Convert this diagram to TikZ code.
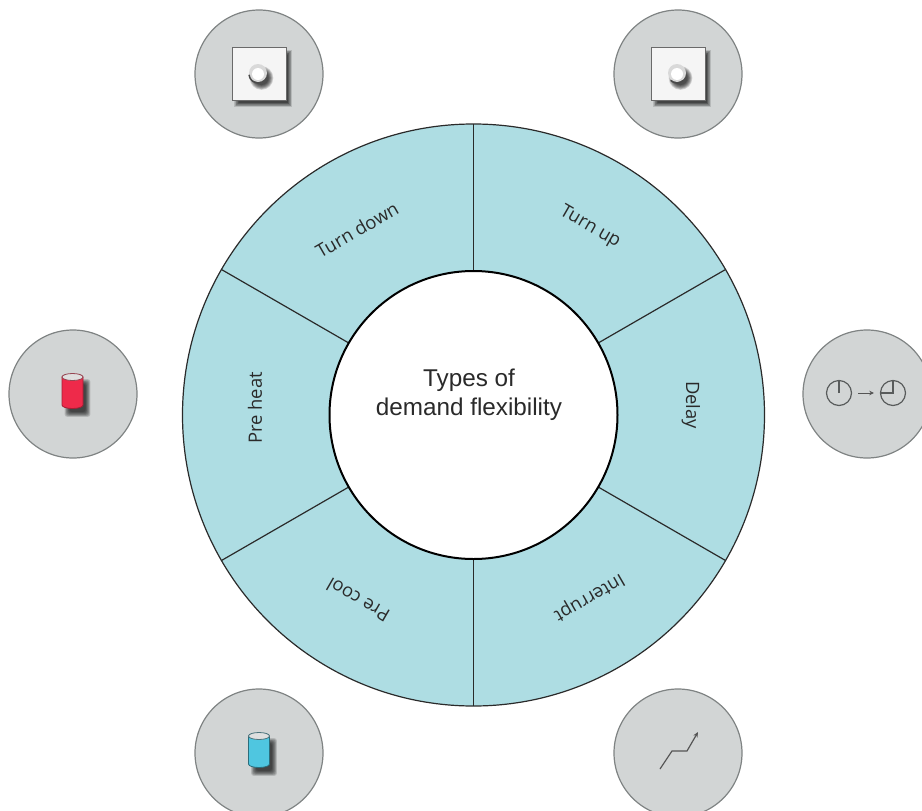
\documentclass[tikz,border=0pt]{standalone}
\usepackage{fontspec}
\usetikzlibrary{arrows.meta,calc}
\setmainfont{Open Sans}
\newfontfamily\centerfont{Liberation Sans}
\definecolor{ringfill}{HTML}{AEDDE3}
\definecolor{badge}{HTML}{D2D5D5}
\definecolor{badgeline}{HTML}{7F8383}
\definecolor{ink}{HTML}{2A2A2A}
\definecolor{canred}{HTML}{EE2A4A}
\definecolor{canblue}{HTML}{4FC6E0}
\tikzset{
  x=0.75pt,y=-0.75pt,
  badgedisc/.style={circle,draw=badgeline,line width=0.9pt,fill=badge,minimum size=96pt,inner sep=0pt},
  ringline/.style={draw=ink,line width=0.9pt},
  seglabel/.style={font=\fontsize{13.8}{16}\selectfont,text=ink,inner sep=0pt},
  centerlabel/.style={font=\centerfont\fontsize{18.2}{22}\selectfont,text=ink,align=center,inner sep=0pt},
  clockface/.style={circle,draw=badgeline!70!black,line width=0.9pt,minimum size=18.75pt,inner sep=0pt},
  clockhand/.style={draw=badgeline!70!black,line width=0.8pt},
}
\newcommand{\knob}[3]{%
  \begin{scope}[shift={(#1,#2)}]
    \foreach \g in {6,5,...,0}{\fill[black,opacity=0.15] (3.5,4) circle ({7+\g*0.8});}
    \fill[gray!30!white] (0,-1) circle (9);
    \fill[white] (0,0) circle (6);
    \draw[ink!85,line width=1.1pt] (#3:9) arc (#3:#3+90:9);
  \end{scope}}
\newcommand{\can}[4]{%
  \begin{scope}[shift={(#1,#2)}]
    \foreach \g in {7,6,...,0}{\fill[black,opacity=0.13,rounded corners=2pt] ({-3-\g*0.7},{-7-\g*0.7}) rectangle ({13+\g*0.7},{21+\g*0.7});}
    \path[fill=#3,draw=#4,line width=0.6pt] (-10.5,-14) -- (-10.5,14) arc[x radius=10.5,y radius=3.5,start angle=180,end angle=0] -- (10.5,-14) -- cycle;
    \path[fill=gray!25!white,draw=#4!60!gray,line width=0.6pt] (0,-14) ellipse (10.5 and 3.5);
  \end{scope}}
\begin{document}
\begin{tikzpicture}
\useasboundingbox (0,0) rectangle (922,811);
\clip (0,0) rectangle (922,811);

% badges
\node[badgedisc] (bTL) at (259,74) {};
\node[badgedisc] (bTR) at (678,74) {};
\node[badgedisc] (bL) at (73,394) {};
\node[badgedisc] (bR) at (867,394) {};
\node[badgedisc] (bBL) at (259,753) {};
\node[badgedisc] (bBR) at (678,753) {};

% ring
\fill[ringfill] (473.5,415) circle (291);
\draw[ringline] (473.5,415) circle (291);
\foreach \a in {90,30,-30,-90,150,210}{
  \draw[ringline] (473.5,415) ++(\a:144) -- ++(\a:147);
}
\fill[white] (473.5,415) circle (144);
\draw[black,line width=1.5pt] (473.5,415) circle (144);

% labels
\node[centerlabel] (center) at (469,395) {Types of\\demand flexibility};
\node[seglabel,rotate=30] (turndown) at (357,230) {Turn down};
\node[seglabel,rotate=-30] (turnup) at (590,227) {Turn up};
\node[seglabel,rotate=-90] (delay) at (691,405) {Delay};
\node[seglabel,rotate=210] (interrupt) at (589,597) {Interrupt};
\node[seglabel,rotate=150] (precool) at (358,600) {Pre cool};
\node[seglabel,rotate=90] (preheat) at (255,408) {Pre heat};

% dial squares
\foreach \cx in {259,678}{
  \begin{scope}[shift={(\cx,73.5)}]
    \foreach \g in {7,6,...,0}{\fill[black,opacity=0.13] ({-20-\g*0.65},{-19-\g*0.65}) rectangle ({28.5+\g*0.65},{29+\g*0.65});}
    \fill[white!96!black,draw=ink!70,line width=0.7pt] (-27,-26.5) rectangle (27,26.5);
  \end{scope}
}
\knob{258}{74}{85}
\knob{677}{74}{45}

% cans
\can{72.5}{391}{canred}{canred!70!black}
\can{259}{750}{canblue}{canblue!55!black}

% clocks
\node[clockface] (clockA) at (839,393) {};
\node[clockface] (clockB) at (893,393) {};
\draw[clockhand] (clockA.center) -- (clockA.north);
\draw[clockhand] (clockB.west) -- (clockB.center) -- (clockB.north);
\draw[ink!80,line width=0.7pt,-{Stealth[length=3.5pt,width=3.5pt]}] ($(clockA.east)+(6,0)$) -- ($(clockB.west)+(-6,0)$);

% trend line
\coordinate (t0) at (660,769);
\coordinate (t1) at (672,751);
\coordinate (t2) at (687,751);
\coordinate (t3) at (698,732);
\draw[ink!80,line width=0.9pt,-{Stealth[length=4pt,width=3.5pt]}] (t0) -- (t1) -- (t2) -- (t3);
\end{tikzpicture}
\end{document}
